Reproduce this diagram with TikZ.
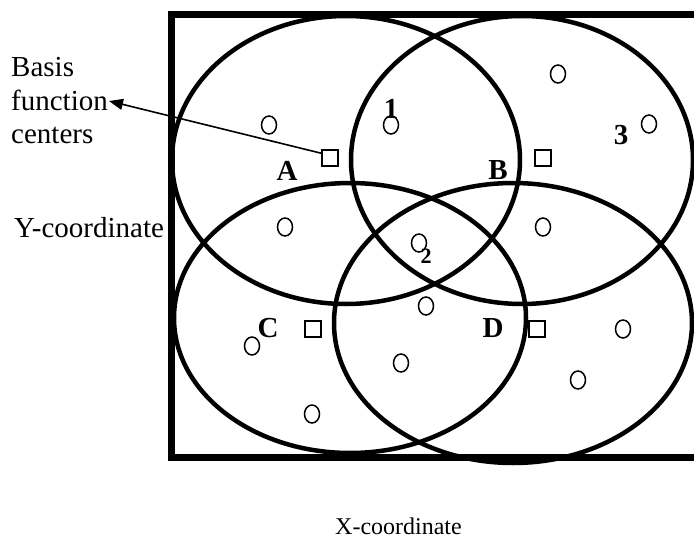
\documentclass[tikz,border=0pt]{standalone}
\usepackage{fontspec}
\setmainfont{Liberation Serif}
\usetikzlibrary{shapes.geometric,arrows.meta}
\tikzset{
  big/.style={line width=4.5pt},
  frame/.style={line width=7pt},
  pt/.style={draw, ellipse, line width=1.5pt, minimum width=15pt, minimum height=18pt, inner sep=0pt},
  ctr/.style={draw, rectangle, line width=1.5pt, minimum size=16pt, inner sep=0pt},
  lbl/.style={font=\fontsize{29}{32}\selectfont\bfseries, inner sep=0pt},
  txt/.style={font=\fontsize{29}{33}\selectfont, inner sep=0pt, anchor=base west},
}
\begin{document}
\begin{tikzpicture}[x=1pt,y=-1pt]
\useasboundingbox (0,0) rectangle (694,538);
% frame
\draw[frame] (700,14) -- (171,14) -- (171,457) -- (700,457);
% overlapping ellipses
\draw[big] (346,160) ellipse [x radius=174, y radius=144];
\draw[big] (522,160) ellipse [x radius=171, y radius=144];
\draw[big] (350,318) ellipse [x radius=176, y radius=135];
\draw[big] (513,323) ellipse [x radius=179, y radius=140];
% data points
\node[pt] (p1) at (269,125) {};
\node[pt] (p2) at (391,125) {};
\node[pt] (p3) at (558,74) {};
\node[pt] (p4) at (649,124) {};
\node[pt] (p5) at (285,227) {};
\node[pt] (p6) at (543,227) {};
\node[pt] (p7) at (419,243) {};
\node[pt] (p8) at (426,306) {};
\node[pt] (p9) at (401,363) {};
\node[pt] (p10) at (252,346) {};
\node[pt] (p11) at (623,329) {};
\node[pt] (p12) at (578,380) {};
\node[pt] (p13) at (312,414) {};
% basis function centers
\node[ctr] (sqA) at (330,158) {};
\node[ctr] (sqB) at (543,158) {};
\node[ctr] (sqC) at (313,329) {};
\node[ctr] (sqD) at (537,329) {};
% labels
\node[lbl] (lA) at (287,171) {A};
\node[lbl] (lB) at (498,170) {B};
\node[lbl] (lC) at (268,328) {C};
\node[lbl] (lD) at (493,328) {D};
\node[lbl] (l1) at (391,109) {1};
\node[lbl] (l3) at (621,135) {3};
\node[lbl, font=\fontsize{22}{25}\selectfont\bfseries] (l2) at (426,256) {2};
% texts
\node[txt] (t1) at (11,76) {Basis};
\node[txt] (t2) at (11,110) {function};
\node[txt] (t3) at (11,143) {centers};
\node[txt] (ty) at (14,237) {Y-coordinate};
\node[txt, font=\fontsize{24}{27}\selectfont] (tx) at (335,534) {X-coordinate};
% arrow
\coordinate (tip) at (109,101);
\draw[line width=1.6pt, -{Triangle[length=14pt,width=11pt]}] (sqA.north west) ++(0,4) -- (tip);
\end{tikzpicture}
\end{document}
